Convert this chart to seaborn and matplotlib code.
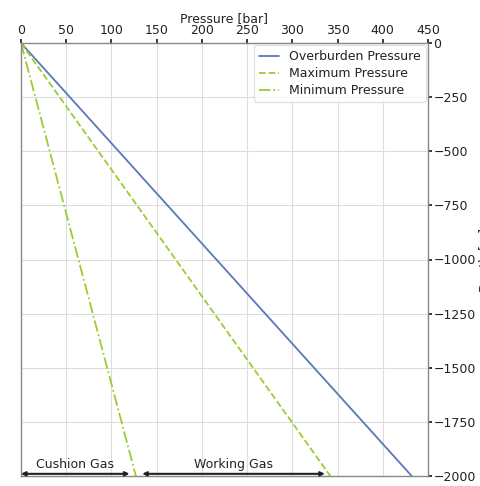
import matplotlib
matplotlib.use("Agg")
import matplotlib.pyplot as plt
import seaborn as sns
import pandas as pd

depth = [0, -2000]
overburden = [0, 432]
max_pressure = [0, 342]
min_pressure = [0, 127]
cushion_range = [0, 120]
working_range = [134, 336]
x_ticks = [0, 50, 100, 150, 200, 250, 300, 350, 400, 450]
y_ticks = [0, -250, -500, -750, -1000, -1250, -1500, -1750, -2000]

sns.set_theme(style="whitegrid")
plt.rcParams['font.family'] = ['DejaVu Sans']

fig = plt.figure(figsize=(4.81, 4.86), dpi=100)
ax = fig.add_axes([21/481, 1 - 476/486, 407/481, 433/486])

blue = "#5a78b8"
green = "#9acd32"
sns.lineplot(x=overburden, y=depth, ax=ax, color=blue, lw=1.3, label="Overburden Pressure", sort=False)
sns.lineplot(x=max_pressure, y=depth, ax=ax, color=green, lw=1.3, ls="--", label="Maximum Pressure", sort=False)
sns.lineplot(x=min_pressure, y=depth, ax=ax, color=green, lw=1.3, ls="-.", label="Minimum Pressure", sort=False)

ax.set_xlim(0, 450)
ax.set_ylim(-2000, 0)
ax.set_xticks(x_ticks)
ax.set_yticks(y_ticks)
ax.xaxis.tick_top()
ax.xaxis.set_label_position("top")
ax.yaxis.tick_right()
ax.yaxis.set_label_position("right")
ax.set_xlabel("Pressure [bar]", fontsize=9, labelpad=2, color="#222222")
ax.set_ylabel("Depth [m]", fontsize=9, labelpad=2, color="#222222")
ax.tick_params(axis="both", labelsize=9, colors="#222222", length=3, pad=1,
               top=True, right=True, direction="out")
ax.grid(True, color="#dddddd", lw=0.8)
for s in ax.spines.values():
    s.set_color("#888888")
    s.set_linewidth(1.0)

ax.annotate("", xy=(cushion_range[0], -1990), xytext=(cushion_range[1], -1990),
            arrowprops=dict(arrowstyle="<|-|>", color="#222222", lw=1.5, mutation_scale=6, shrinkA=0, shrinkB=0))
ax.annotate("", xy=(working_range[0], -1990), xytext=(working_range[1], -1990),
            arrowprops=dict(arrowstyle="<|-|>", color="#222222", lw=1.5, mutation_scale=6, shrinkA=0, shrinkB=0))
ax.text(sum(cushion_range)/2, -1975, "Cushion Gas", ha="center", va="bottom", fontsize=9, color="#222222")
ax.text(sum(working_range)/2, -1975, "Working Gas", ha="center", va="bottom", fontsize=9, color="#222222")

leg = ax.legend(loc="upper right", fontsize=9, frameon=True, borderaxespad=0.2,
                handlelength=1.6, labelspacing=0.3)
leg.get_frame().set_edgecolor("#dddddd")
for t in leg.get_texts():
    t.set_color("#222222")

fig.savefig("out.png", dpi=100)
